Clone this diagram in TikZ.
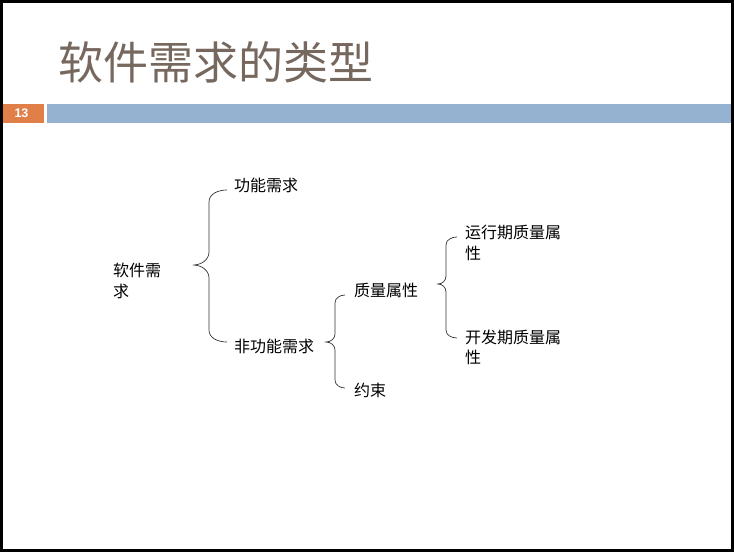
\documentclass[tikz,border=0pt]{standalone}
\usepackage{fontspec}
\setmainfont{Liberation Sans}
\newfontfamily\cjk{Noto Sans CJK SC}
\usepackage{tikz}
\definecolor{titlegray}{RGB}{118,104,94}
\definecolor{numorange}{RGB}{224,128,72}
\definecolor{barblue}{RGB}{149,179,208}
\tikzset{
  itemnode/.style = {inner sep=0pt, anchor=west, align=left,
                     font=\cjk\fontsize{16}{20.5}\selectfont},
  rootnode/.style = {itemnode},
  heading/.style  = {inner sep=0pt, anchor=west, text=titlegray,
                     font=\cjk\fontsize{45}{50}\selectfont},
  bracket/.style  = {draw, line width=0.7pt, black!80}
}

\begin{document}
\begin{tikzpicture}
 [x=1pt, y=1pt]

  \useasboundingbox (0,0) rectangle (734,-552);
  \draw[line width=3pt] (1.5,-1.5) rectangle (732.5,-550.5);

  % title and bar
  \node[heading] (title) at (58,-62.5) {软件需求的类型};
  \fill[numorange] (3,-104) rectangle (44,-123);
  \fill[barblue] (47,-104) rectangle (731,-123);
  \node[text=white, font=\bfseries\fontsize{12.5}{12.5}\selectfont] (num) at (21.5,-113) {13};

  % items
  \node[rootnode] (req)     at (113,-281)   {软件需\\求};
  \node[itemnode] (func)    at (234,-185)   {功能需求};
  \node[itemnode] (nonfunc) at (234,-346)   {非功能需求};
  \node[itemnode] (qual)    at (354,-290)   {质量属性};
  \node[itemnode] (limit)   at (354,-390.5) {约束};
  \node[itemnode] (runq)    at (465,-243)   {运行期质量属\\性};
  \node[itemnode] (devq)    at (465,-347.5) {开发期质量属\\性};

  % braces
  \coordinate (b1t) at (227,-190);
  \coordinate (b1p) at (193,-265);
  \coordinate (b1b) at (227,-342);
  \draw[bracket] (b1t) to[out=180,in=90] (209,-202) -- (209,-252)
    to[out=270,in=0] (b1p) to[out=0,in=90] (209,-278) -- (209,-330)
    to[out=270,in=180] (b1b);

  \coordinate (b2t) at (345,-295);
  \coordinate (b2p) at (326,-342);
  \coordinate (b2b) at (345,-388);
  \draw[bracket] (b2t) to[out=180,in=90] (335,-303) -- (335,-334)
    to[out=270,in=0] (b2p) to[out=0,in=90] (335,-350) -- (335,-380)
    to[out=270,in=180] (b2b);

  \coordinate (b3t) at (457,-237);
  \coordinate (b3p) at (438,-284);
  \coordinate (b3b) at (457,-338);
  \draw[bracket] (b3t) to[out=180,in=90] (446,-245) -- (446,-276)
    to[out=270,in=0] (b3p) to[out=0,in=90] (446,-292) -- (446,-330)
    to[out=270,in=180] (b3b);
\end{tikzpicture}
\end{document}
